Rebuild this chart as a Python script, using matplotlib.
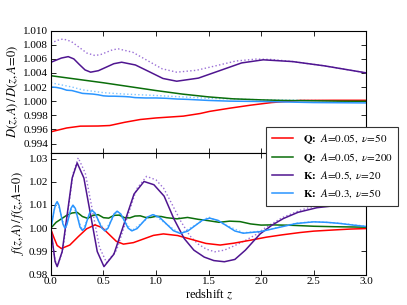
import matplotlib
matplotlib.use("Agg")
import matplotlib.pyplot as plt
from matplotlib.ticker import FormatStrFormatter

plt.rcParams['font.family'] = ['Liberation Serif', 'DejaVu Serif']
plt.rcParams['mathtext.fontset'] = 'stix'
plt.rcParams['font.size'] = 8

labels = [r'$\mathbf{Q\!:}$ $A\!=\!0.05,\;\nu\!=\!50$',
          r'$\mathbf{Q\!:}$ $A\!=\!0.05,\;\nu\!=\!200$',
          r'$\mathbf{K\!:}$ $A\!=\!0.5,\;\nu\!=\!20$',
          r'$\mathbf{K\!:}$ $A\!=\!0.3,\;\nu\!=\!50$']
xticks = [0.0, 0.5, 1.0, 1.5, 2.0, 2.5, 3.0]
top_yticks = [0.994, 0.996, 0.998, 1.000, 1.002, 1.004, 1.006, 1.008, 1.010]
bot_yticks = [0.98, 0.99, 1.00, 1.01, 1.02, 1.03]

# ---------------- top panel: D(z,A)/D(z,A=0) ----------------
zD_red = [0, 0.15, 0.28, 0.45, 0.56, 0.7, 0.85, 1.0, 1.26, 1.42, 1.51, 1.7, 1.9, 2.1, 2.37, 2.7, 3.0]
D_red = [0.99566, 0.9962, 0.99646, 0.99648, 0.99655, 0.9970, 0.9974, 0.99762, 0.99788, 0.99825,
         0.99855, 0.9990, 0.99943, 0.9998, 1.0001, 1.00012, 1.00012]

zD_green = [0, 0.25, 0.5, 0.75, 1.0, 1.25, 1.5, 1.73, 2.0, 2.2, 2.5, 2.75, 3.0]
D_green = [1.0036, 1.0031, 1.0026, 1.00205, 1.0015, 1.0010, 1.0006, 1.00033, 1.00018, 1.0001,
           1.00005, 1.0000, 0.99998]

zD_purple = [0, 0.05, 0.1, 0.165, 0.218, 0.27, 0.325, 0.378, 0.452, 0.525, 0.599, 0.673, 0.804,
             0.935, 1.066, 1.197, 1.403, 1.61, 1.814, 2.02, 2.3, 2.6, 3.0]
D_purple = [1.0055, 1.0058, 1.0061, 1.0063, 1.00598, 1.0052, 1.00442, 1.0041, 1.00431, 1.0048,
            1.0053, 1.00551, 1.00512, 1.00417, 1.00321, 1.00282, 1.00326, 1.00434, 1.00541,
            1.00585, 1.0056, 1.0050, 1.0040]

zD_purple_dot = [0, 0.06, 0.117, 0.1925, 0.268, 0.343, 0.419, 0.474, 0.53, 0.585, 0.64, 0.779,
                 0.918, 1.058, 1.197, 1.385, 1.573, 1.76, 1.95, 2.1, 2.3, 2.6, 3.0]
D_purple_dot = [1.0082, 1.0086, 1.0088, 1.00846, 1.00763, 1.0068, 1.00646, 1.0066, 1.00693,
                1.00726, 1.0074, 1.00692, 1.00575, 1.00458, 1.0041, 1.00437, 1.00502, 1.00568,
                1.00595, 1.0059, 1.0056, 1.0050, 1.0040]

zD_blue = [0, 0.05, 0.1, 0.15, 0.2, 0.25, 0.3, 0.35, 0.4, 0.45, 0.5, 0.55, 0.6, 0.7, 0.75, 0.8,
           0.9, 1.0, 1.1, 1.2, 1.3, 1.5, 1.7, 2.0, 2.5, 3.0]
D_blue = [1.0020, 1.00195, 1.0018, 1.00155, 1.0015, 1.0013, 1.0011, 1.00105, 1.0010, 1.0009,
          1.00075, 1.0007, 1.0007, 1.00065, 1.0006, 1.0005, 1.00045, 1.00045, 1.0004, 1.0003,
          1.00025, 1.0001, 1.0000, 0.99995, 0.9998, 0.99975]

zD_blue_dot = [0, 0.1, 0.2, 0.3, 0.4, 0.5, 0.7, 1.0, 1.5, 2.0, 2.5, 3.0]
D_blue_dot = [1.0026, 1.0023, 1.0020, 1.0016, 1.0014, 1.0012, 1.0010, 1.0008, 1.0004, 1.0002,
              1.0001, 0.99995]

# ---------------- bottom panel: f(z,A)/f(z,A=0) ----------------
zf_red = [0, 0.03, 0.06, 0.1, 0.18, 0.26, 0.34, 0.42, 0.4875, 0.555, 0.6225, 0.69, 0.785, 0.88,
          0.975, 1.07, 1.205, 1.34, 1.475, 1.61, 1.74, 1.9, 2.05, 2.2, 2.37, 2.5, 2.69, 2.85, 3.0]
f_red = [0.9995, 0.9958, 0.9925, 0.9912, 0.9927, 0.9963, 0.9997, 1.0014, 1.0002, 0.99725, 0.9943,
         0.9931, 0.99374, 0.9953, 0.99686, 0.9975, 0.9968, 0.9951, 0.9934, 0.9927, 0.9935, 0.9948,
         0.9961, 0.9971, 0.9981, 0.9987, 0.9992, 0.9996, 0.9998]

zf_green = [0, 0.05, 0.1, 0.15, 0.2, 0.25, 0.3, 0.35, 0.4, 0.45, 0.5, 0.55, 0.6, 0.65, 0.7, 0.75,
            0.8, 0.85, 0.9, 0.95, 1.0, 1.05, 1.1, 1.2, 1.3, 1.4, 1.5, 1.6, 1.7, 1.8, 1.9, 2.0,
            2.1, 2.3, 2.5, 2.7, 3.0]
f_green = [1.000, 1.0025, 1.0040, 1.0055, 1.0065, 1.0068, 1.0050, 1.0042, 1.0055, 1.0058, 1.0045,
           1.0043, 1.0055, 1.0056, 1.0045, 1.0044, 1.0052, 1.0053, 1.0046, 1.0046, 1.0051, 1.0050,
           1.0045, 1.0040, 1.0046, 1.0038, 1.0032, 1.0025, 1.0030, 1.0028, 1.0018, 1.0013,
           1.0014, 1.0012, 1.0008, 1.0006, 1.0004]

zf_purple = [0, 0.02, 0.04, 0.06, 0.1075, 0.155, 0.2025, 0.25, 0.314, 0.3775, 0.441, 0.505, 0.600,
             0.6955, 0.791, 0.886, 0.98, 1.077, 1.17, 1.268, 1.36, 1.459, 1.55, 1.65, 1.75, 1.85,
             1.99, 2.1, 2.21, 2.35, 2.53, 2.75, 3.0]
f_purple = [1.000, 0.9925, 0.9856, 0.9834, 0.9899, 1.0058, 1.0216, 1.0281, 1.0216, 1.0058, 0.9899,
            0.9834, 0.9888, 1.0018, 1.0147, 1.0201, 1.0187, 1.0138, 1.0040, 0.9955, 0.9905, 0.9875,
            0.9860, 0.9855, 0.9865, 0.9905, 0.9975, 1.0012, 1.0041, 1.0068, 1.0088, 1.0099, 1.0103]

zf_purple_dot = [0, 0.02, 0.04, 0.065, 0.114, 0.1625, 0.211, 0.26, 0.3275, 0.395, 0.4625, 0.53,
                 0.625, 0.72, 0.815, 0.91, 1.0, 1.0725, 1.15, 1.235, 1.32, 1.3975, 1.48, 1.56,
                 1.65, 1.75, 1.85, 1.95, 2.05, 2.2, 2.37, 2.48, 2.6, 2.75, 3.0]
f_purple_dot = [1.000, 0.9925, 0.9860, 0.9838, 0.9906, 1.0071, 1.0235, 1.0303, 1.0237, 1.0077,
                0.9917, 0.9851, 0.9905, 1.0037, 1.0169, 1.0223, 1.0208, 1.0172, 1.0105, 1.0030,
                0.9968, 0.9932, 0.9909, 0.9898, 0.9905, 0.9925, 0.9947, 0.9972, 1.0005, 1.0045,
                1.0077, 1.0091, 1.0098, 1.0101, 1.0103]

zf_blue = [0, 0.015, 0.03, 0.045, 0.06, 0.078, 0.0965, 0.115, 0.133, 0.152, 0.1715, 0.191, 0.21,
           0.2325, 0.255, 0.2775, 0.30, 0.3225, 0.345, 0.3675, 0.39, 0.421, 0.452, 0.483, 0.514,
           0.543, 0.572, 0.601, 0.63, 0.665, 0.70, 0.735, 0.77, 0.82, 0.87, 0.92, 0.97, 1.035,
           1.10, 1.165, 1.23, 1.30, 1.37, 1.44, 1.51, 1.59, 1.67, 1.75, 1.83, 1.9975, 2.165,
           2.3325, 2.5, 2.625, 2.75, 2.875, 3.0]
f_blue = [1.000, 1.0035, 1.0075, 1.0103, 1.0114, 1.0097, 1.0057, 1.0017, 1.0000, 1.00145, 1.00495,
          1.0085, 1.0099, 1.0085, 1.00445, 1.0004, 0.9990, 0.99997, 1.00335, 1.0064, 1.0077,
          1.00645, 1.00325, 1.0001, 0.9988, 0.99994, 1.00305, 1.0061, 1.0073, 1.0061, 1.00305,
          1.0000, 0.9988, 0.99979, 1.0023, 1.0048, 1.0058, 1.0046, 1.00175, 0.9989, 0.9977,
          0.99866, 1.0010, 1.00334, 1.0043, 1.00334, 1.00105, 0.99876, 0.9978, 0.99852, 1.00025,
          1.00198, 1.0027, 1.0025, 1.0020, 1.0013, 1.0007]

zf_blue_dot = [0, 0.03, 0.06, 0.0965, 0.133, 0.1715, 0.21, 0.255, 0.30, 0.345, 0.39, 0.452, 0.514,
               0.572, 0.63, 0.70, 0.77, 0.87, 0.97, 1.10, 1.23, 1.37, 1.50, 1.67, 1.83, 2.0, 2.165,
               2.33, 2.5, 2.75, 3.0]
f_blue_dot = [1.000, 1.0076, 1.0115, 1.0058, 1.0001, 1.0050, 1.0100, 1.0045, 0.9991, 1.0034,
              1.0078, 1.0033, 0.9989, 1.0031, 1.0074, 1.0031, 0.9989, 1.0024, 1.0060, 1.0017,
              0.9976, 1.0012, 1.0048, 1.0012, 0.9980, 0.9987, 1.0004, 1.0021, 1.0028, 1.0021,
              1.0008]

c_red = '#ff0000'
c_green = '#0a6e0a'
c_purple = '#4f1590'
c_blue = '#2a95ff'
c_purple_dot = '#9a6fd6'
c_blue_dot = '#7fc4ff'

fig = plt.figure(figsize=(4.07, 3.05), dpi=100)
ax1 = fig.add_axes([0.125, 0.5, 0.775, 0.4])
ax2 = fig.add_axes([0.125, 0.1, 0.775, 0.4], sharex=ax1)

lw = 1.1
ax1.plot(zD_purple_dot, D_purple_dot, ':', color=c_purple_dot, lw=1.0)
ax1.plot(zD_blue_dot, D_blue_dot, ':', color=c_blue_dot, lw=1.0)
ax1.plot(zD_red, D_red, '-', color=c_red, lw=lw)
ax1.plot(zD_green, D_green, '-', color=c_green, lw=lw)
ax1.plot(zD_purple, D_purple, '-', color=c_purple, lw=lw)
ax1.plot(zD_blue, D_blue, '-', color=c_blue, lw=lw)

ax2.plot(zf_purple_dot, f_purple_dot, ':', color=c_purple_dot, lw=1.0)
ax2.plot(zf_blue_dot, f_blue_dot, ':', color=c_blue_dot, lw=1.0)
h1, = ax2.plot(zf_red, f_red, '-', color=c_red, lw=lw)
h2, = ax2.plot(zf_green, f_green, '-', color=c_green, lw=lw)
h3, = ax2.plot(zf_purple, f_purple, '-', color=c_purple, lw=lw)
h4, = ax2.plot(zf_blue, f_blue, '-', color=c_blue, lw=lw)

for ax in (ax1, ax2):
    ax.tick_params(direction='in', top=True, right=True, length=3.5, width=0.6, labelsize=8, pad=2)
    for s in ax.spines.values():
        s.set_linewidth(0.8)
    ax.set_xticks(xticks)

ax1.set_xlim(0, 3)
ax1.set_ylim(0.99273, 1.010)
ax1.set_yticks(top_yticks)
ax1.yaxis.set_major_formatter(FormatStrFormatter('%.3f'))
ax1.tick_params(labelbottom=False)
ax2.set_ylim(0.98, 1.0326)
ax2.set_yticks(bot_yticks)
ax2.yaxis.set_major_formatter(FormatStrFormatter('%.2f'))
ax2.xaxis.set_major_formatter(FormatStrFormatter('%.1f'))

ax1.set_ylabel(r'$D(z,A)\,/\,D(z,A\!=\!0)$', fontsize=9, labelpad=2)
ax2.set_ylabel(r'$f(z,A)\,/\,f(z,A\!=\!0)$', fontsize=9, labelpad=2)
ax2.set_xlabel(r'redshift $z$', fontsize=9, labelpad=1)

leg = fig.legend([h1, h2, h3, h4], labels, loc='upper left',
                 bbox_to_anchor=(266/407, 1 - 127/305), borderaxespad=0,
                 fontsize=8, handlelength=1.9, handletextpad=0.9, labelspacing=0.45,
                 borderpad=0.5, fancybox=False, framealpha=1)
leg.get_frame().set_edgecolor('#333333')
leg.get_frame().set_linewidth(0.8)

fig.savefig('out.png', dpi=100)
